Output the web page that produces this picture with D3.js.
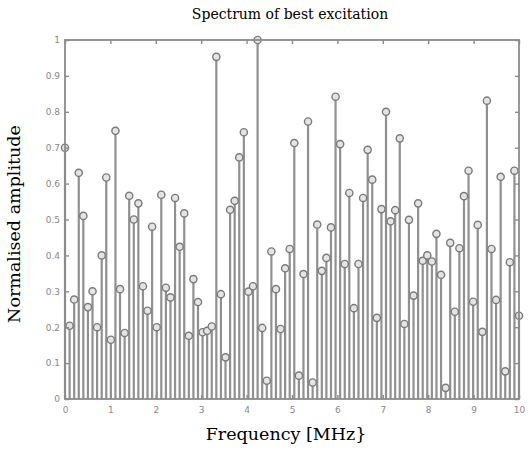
<!DOCTYPE html>
<html>
<head>
<meta charset="utf-8">
<script src="https://cdn.jsdelivr.net/npm/d3@7"></script>
<style>
  body { margin: 0; background: #fff; }
  text { font-family: "DejaVu Serif", serif; }
</style>
</head>
<body>
<script>
// amplitudes at 100 equally spaced frequencies from 0 to 10 MHz
var amplitude = [
  0.70, 0.204, 0.277, 0.63, 0.51, 0.256, 0.30, 0.20, 0.40, 0.617,
  0.165, 0.747, 0.306, 0.184, 0.566, 0.50, 0.545, 0.314, 0.246, 0.48,
  0.20, 0.569, 0.31, 0.283, 0.56, 0.424, 0.517, 0.176, 0.334, 0.27,
  0.186, 0.19, 0.202, 0.953, 0.292, 0.116, 0.527, 0.552, 0.673, 0.743,
  0.299, 0.314, 1.0, 0.198, 0.051, 0.411, 0.306, 0.195, 0.364, 0.418,
  0.713, 0.065, 0.348, 0.773, 0.046, 0.486, 0.357, 0.393, 0.478, 0.842,
  0.71, 0.376, 0.574, 0.253, 0.376, 0.56, 0.694, 0.611, 0.226, 0.529,
  0.80, 0.495, 0.526, 0.726, 0.209, 0.499, 0.288, 0.545, 0.385, 0.40,
  0.383, 0.46, 0.346, 0.031, 0.435, 0.243, 0.42, 0.565, 0.636, 0.271,
  0.485, 0.187, 0.831, 0.418, 0.276, 0.619, 0.077, 0.381, 0.636, 0.232
];
var frequency = amplitude.map(function(d, i) { return i * 10 / (amplitude.length - 1); });
var xTicks = [0, 1, 2, 3, 4, 5, 6, 7, 8, 9, 10];
var yTicks = [0, 0.1, 0.2, 0.3, 0.4, 0.5, 0.6, 0.7, 0.8, 0.9, 1];

var width = 528, height = 452;
var plotLeft = 65, plotRight = 519, plotTop = 40, plotBottom = 399;

var svg = d3.select("body").append("svg")
  .attr("width", width)
  .attr("height", height);

var x = d3.scaleLinear().domain([0, 10]).range([plotLeft, plotRight]);
var y = d3.scaleLinear().domain([0, 1]).range([plotBottom, plotTop]);

var axisColor = "#8c8c8c";

// stems
svg.append("g").selectAll("line")
  .data(amplitude)
  .enter().append("line")
  .attr("x1", function(d, i) { return x(frequency[i]); })
  .attr("x2", function(d, i) { return x(frequency[i]); })
  .attr("y1", y(0))
  .attr("y2", function(d) { return y(d); })
  .attr("stroke", "#909090")
  .attr("stroke-width", 2.2);

// markers
svg.append("g").selectAll("circle")
  .data(amplitude)
  .enter().append("circle")
  .attr("cx", function(d, i) { return x(frequency[i]); })
  .attr("cy", function(d) { return y(d); })
  .attr("r", 3.6)
  .attr("fill", "#e4e4e4")
  .attr("stroke", "#7a7a7a")
  .attr("stroke-width", 1.4);

// frame
svg.append("rect")
  .attr("x", plotLeft).attr("y", plotTop)
  .attr("width", plotRight - plotLeft).attr("height", plotBottom - plotTop)
  .attr("fill", "none")
  .attr("stroke", axisColor)
  .attr("stroke-width", 1.8);

function styleAxis(g) {
  g.select(".domain").remove();
  g.selectAll(".tick line").attr("stroke", axisColor).attr("stroke-width", 1.4);
  g.selectAll(".tick text").attr("fill", "#888").attr("font-size", 9)
    .style("font-family", "'DejaVu Sans', sans-serif");
}

svg.append("g")
  .attr("transform", "translate(0," + plotBottom + ")")
  .call(d3.axisBottom(x).tickValues(xTicks).tickSize(-4).tickPadding(8).tickFormat(d3.format("d")))
  .call(styleAxis);
svg.append("g")
  .attr("transform", "translate(0," + plotTop + ")")
  .call(d3.axisTop(x).tickValues(xTicks).tickSize(-4).tickFormat(""))
  .call(styleAxis);
svg.append("g")
  .attr("transform", "translate(" + plotLeft + ",0)")
  .call(d3.axisLeft(y).tickValues(yTicks).tickSize(-4).tickPadding(5).tickFormat(function(d) { return d === 0 || d === 1 ? d : d3.format(".1f")(d); }))
  .call(styleAxis);
svg.append("g")
  .attr("transform", "translate(" + plotRight + ",0)")
  .call(d3.axisRight(y).tickValues(yTicks).tickSize(-4).tickFormat(""))
  .call(styleAxis);

// titles
svg.append("text")
  .attr("x", 290).attr("y", 19)
  .attr("text-anchor", "middle")
  .attr("font-size", 14)
  .text("Spectrum of best excitation");

svg.append("text")
  .attr("x", 286).attr("y", 440)
  .attr("text-anchor", "middle")
  .attr("font-size", 17.5)
  .text("Frequency [MHz}");

svg.append("text")
  .attr("transform", "translate(20,224) rotate(-90)")
  .attr("text-anchor", "middle")
  .attr("font-size", 17.5)
  .text("Normalised amplitude");
</script>
</body>
</html>
